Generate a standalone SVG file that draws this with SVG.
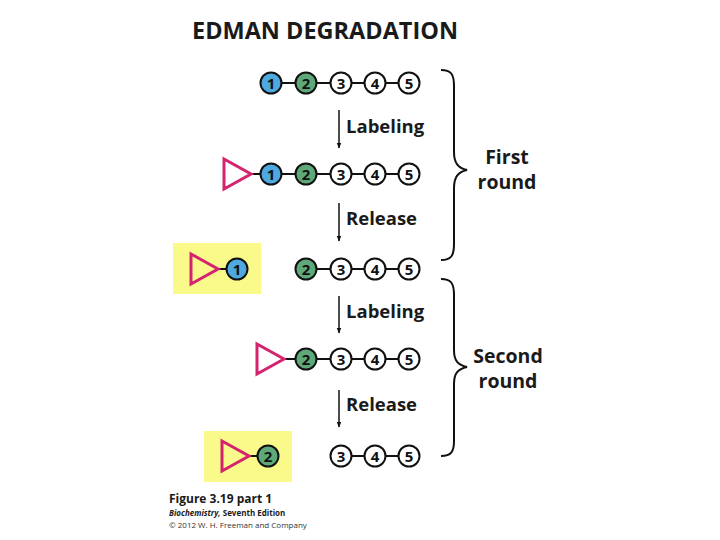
<svg xmlns="http://www.w3.org/2000/svg" width="720" height="540" viewBox="0 0 720 540">
<defs>
<style>
.c{stroke:#111;stroke-width:2}
.w{fill:#fff}
.b{fill:#4da9df}
.g{fill:#5ea97a}
.n{font-family:"Open Sans","Liberation Sans",sans-serif;font-weight:700;font-size:15px;text-anchor:middle;fill:#111}
.bond{stroke:#111;stroke-width:2}
.tri{fill:none;stroke:#d4236f;stroke-width:3;stroke-linejoin:miter}
.lab{font-family:"Open Sans","Liberation Sans",sans-serif;font-weight:700;font-size:18.5px;fill:#1a1a1a}
.big{font-size:19.5px;text-anchor:middle}
.arr{stroke:#111;stroke-width:1.5;fill:none}
.br{stroke:#111;stroke-width:2;fill:none}
.hl{fill:#fafa8a}
</style>
<marker id="ah" viewBox="0 0 10 10" refX="9" refY="5" markerWidth="6" markerHeight="6" orient="auto" markerUnits="userSpaceOnUse"><path d="M0,1 L10,5 L0,9 Z" fill="#111"/></marker>
</defs>
<rect width="720" height="540" fill="#fff"/>
<text x="192" y="39" font-family="'Open Sans','Liberation Sans',sans-serif" font-weight="700" font-size="23" fill="#1a1a1a" textLength="266" lengthAdjust="spacingAndGlyphs">EDMAN DEGRADATION</text>

<g id="connectors">
<line class="arr" x1="339" y1="110" x2="339" y2="148" marker-end="url(#ah)"/>
<line class="arr" x1="339" y1="203" x2="339" y2="241" marker-end="url(#ah)"/>
<line class="arr" x1="339" y1="296" x2="339" y2="333" marker-end="url(#ah)"/>
<line class="arr" x1="339" y1="390" x2="339" y2="427" marker-end="url(#ah)"/>
</g>
<text class="lab" x="346" y="133">Labeling</text>
<text class="lab" x="346" y="225">Release</text>
<text class="lab" x="346" y="318">Labeling</text>
<text class="lab" x="346" y="411">Release</text>

<g id="row1">
<line class="bond" x1="271" y1="83" x2="409" y2="83"/>
<circle class="c b" cx="271" cy="83" r="10.5"/><text class="n" x="271" y="88.5">1</text>
<circle class="c g" cx="306" cy="83" r="10.5"/><text class="n" x="306" y="88.5">2</text>
<circle class="c w" cx="341" cy="83" r="10.5"/><text class="n" x="341" y="88.5">3</text>
<circle class="c w" cx="375" cy="83" r="10.5"/><text class="n" x="375" y="88.5">4</text>
<circle class="c w" cx="409" cy="83" r="10.5"/><text class="n" x="409" y="88.5">5</text>
</g>
<g id="row2">
<line class="bond" x1="251" y1="174" x2="409" y2="174"/>
<polygon class="tri" points="224,159 251,174 224,189"/>
<circle class="c b" cx="271" cy="174" r="10.5"/><text class="n" x="271" y="179.5">1</text>
<circle class="c g" cx="306" cy="174" r="10.5"/><text class="n" x="306" y="179.5">2</text>
<circle class="c w" cx="341" cy="174" r="10.5"/><text class="n" x="341" y="179.5">3</text>
<circle class="c w" cx="375" cy="174" r="10.5"/><text class="n" x="375" y="179.5">4</text>
<circle class="c w" cx="409" cy="174" r="10.5"/><text class="n" x="409" y="179.5">5</text>
</g>
<g id="row3">
<rect class="hl" x="173" y="243" width="88" height="51"/>
<line class="bond" x1="218" y1="269" x2="237" y2="269"/>
<polygon class="tri" points="191,254 218,269 191,284"/>
<circle class="c b" cx="237" cy="269" r="10.5"/><text class="n" x="237" y="274.5">1</text>
<line class="bond" x1="306" y1="269" x2="409" y2="269"/>
<circle class="c g" cx="306" cy="269" r="10.5"/><text class="n" x="306" y="274.5">2</text>
<circle class="c w" cx="341" cy="269" r="10.5"/><text class="n" x="341" y="274.5">3</text>
<circle class="c w" cx="375" cy="269" r="10.5"/><text class="n" x="375" y="274.5">4</text>
<circle class="c w" cx="409" cy="269" r="10.5"/><text class="n" x="409" y="274.5">5</text>
</g>
<g id="row4">
<line class="bond" x1="284" y1="359" x2="409" y2="359"/>
<polygon class="tri" points="257,344 284,359 257,374"/>
<circle class="c g" cx="306" cy="359" r="10.5"/><text class="n" x="306" y="364.5">2</text>
<circle class="c w" cx="341" cy="359" r="10.5"/><text class="n" x="341" y="364.5">3</text>
<circle class="c w" cx="375" cy="359" r="10.5"/><text class="n" x="375" y="364.5">4</text>
<circle class="c w" cx="409" cy="359" r="10.5"/><text class="n" x="409" y="364.5">5</text>
</g>
<g id="row5">
<rect class="hl" x="204" y="431" width="88" height="51"/>
<line class="bond" x1="249" y1="456" x2="268" y2="456"/>
<polygon class="tri" points="222,441 249,456 222,471"/>
<circle class="c g" cx="268" cy="456" r="10.5"/><text class="n" x="268" y="461.5">2</text>
<line class="bond" x1="341" y1="456" x2="409" y2="456"/>
<circle class="c w" cx="341" cy="456" r="10.5"/><text class="n" x="341" y="461.5">3</text>
<circle class="c w" cx="375" cy="456" r="10.5"/><text class="n" x="375" y="461.5">4</text>
<circle class="c w" cx="409" cy="456" r="10.5"/><text class="n" x="409" y="461.5">5</text>
</g>

<g id="brace1">
<path class="br" d="M441,70 C451,70 454,74 454,86 L454,152 C454,163 458,168 467,170 C458,172 454,177 454,188 L454,244 C454,256 451,260 441,260"/>
<text class="lab big" x="507" y="164">First</text>
<text class="lab big" x="507" y="189">round</text>
</g>
<g id="brace2">
<path class="br" d="M441,279 C451,279 454,283 454,295 L454,350 C454,361 458,365 467,367 C458,369 454,373 454,384 L454,441 C454,452 451,456 441,456"/>
<text class="lab big" x="508" y="363">Second</text>
<text class="lab big" x="508" y="388">round</text>
</g>

<g id="caption" font-family="'Open Sans','Liberation Sans',sans-serif" fill="#1a1a1a">
<text x="169" y="503" font-size="12" font-weight="700">Figure 3.19 part 1</text>
<text x="169" y="516" font-size="8" font-weight="700"><tspan font-style="italic">Biochemistry,</tspan> Seventh Edition</text>
<text x="169" y="528" font-size="8" fill="#333">© 2012 W. H. Freeman and Company</text>
</g>
</svg>
